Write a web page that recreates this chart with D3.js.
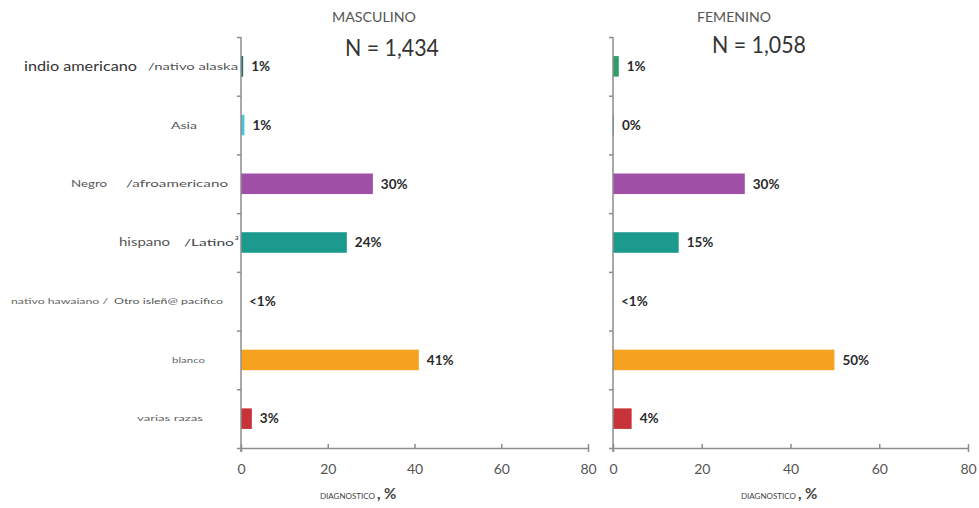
<!DOCTYPE html>
<html>
<head>
<meta charset="utf-8">
<script src="https://cdn.jsdelivr.net/npm/d3@7"></script>
<style>
  body { margin: 0; background: #fff; }
  text { font-family: Lato, "Open Sans", sans-serif; }
</style>
</head>
<body>
<svg id="chart" width="979" height="508"></svg>
<script>
// categories (each label is drawn in pieces, like the original)
const categories = [
    ["indio americano", "/nativo  alaska"],
    ["Asia"],
    ["Negro", "/afroamericano"],
    ["hispano", "/Latino"],
    ["nativo hawaiano /", "Otro isleñ@ pacifico"],
    ["blanco"],
    ["varias razas"]
];
const catKeys = categories.map(c => c.join(" "));

const maleValues = [0.5, 0.8, 30.4, 24.4, 0, 41.0, 2.5];
const maleLabels = ["1%", "1%", "30%", "24%", "<1%", "41%", "3%"];
const femaleValues = [1.3, 0.2, 29.7, 14.8, 0, 49.9, 4.2];
const femaleLabels = ["1%", "0%", "30%", "15%", "<1%", "50%", "4%"];

const maleColors = ["#1d6f67", "#4ec3dc", "#a04fa6", "#1b9a8d", "#ffffff", "#f6a221", "#c8333a"];
const femaleColors = ["#2e9e68", "#2a9a8e", "#a04fa6", "#1b9a8d", "#ffffff", "#f6a221", "#c8333a"];

const xTicks = [0, 20, 40, 60, 80];
const panels = [
    {title: "MASCULINO", n: "N = 1,434", values: maleValues, labels: maleLabels, colors: maleColors},
    {title: "FEMENINO", n: "N = 1,058", values: femaleValues, labels: femaleLabels, colors: femaleColors}
];

const svg = d3.select("#chart");
const plotTop = 37, plotBottom = 448;
const panelX = [[241, 588], [613, 968]];
const titleX = [[332, 345], [697, 712]];

const y = d3.scaleBand().domain(catKeys).range([plotTop, plotBottom])
    .paddingInner(0.65).paddingOuter(0.325);
const yb = d3.scaleLinear().domain([0, categories.length]).range([plotTop, plotBottom]);

panels.forEach((p, pi) => {
    const x = d3.scaleLinear().domain([0, 80]).range(panelX[pi]);
    const g = svg.append("g");

    g.selectAll("rect.bar")
        .data(p.values)
        .join("rect")
        .attr("class", "bar")
        .attr("x", x(0))
        .attr("y", (d, i) => y(catKeys[i]))
        .attr("width", d => x(d) - x(0))
        .attr("height", y.bandwidth())
        .attr("fill", (d, i) => p.colors[i]);

    g.selectAll("text.val")
        .data(p.values)
        .join("text")
        .attr("class", "val")
        .attr("x", d => x(d) + 8)
        .attr("y", (d, i) => y(catKeys[i]) + y.bandwidth() / 2)
        .attr("dy", "0.35em")
        .attr("font-size", 13.5)
        .attr("font-weight", "bold")
        .attr("fill", "#2a2a2a")
        .text((d, i) => p.labels[i]);

    // y axis with ticks at band boundaries
    const ya = g.append("g")
        .attr("transform", `translate(${x(0)},0)`)
        .call(d3.axisLeft(yb).tickValues(d3.range(categories.length + 1))
            .tickSize(4).tickSizeOuter(0).tickFormat(""));
    ya.select(".domain").attr("d", `M0,${plotTop}V${plotBottom + 4}`);

    const xa = g.append("g")
        .attr("transform", `translate(0,${plotBottom})`)
        .call(d3.axisBottom(x).tickValues(xTicks).tickSize(-4).tickSizeOuter(4).tickPadding(16));
    xa.selectAll("text").attr("font-size", 14).attr("fill", "#555")
        .style("font-family", "Lato, sans-serif");

    [ya, xa].forEach(a => {
        a.selectAll("path, line").attr("stroke", "#8d8d8d").attr("stroke-width", 1.5);
    });

    // titles
    g.append("text").attr("x", titleX[pi][0]).attr("y", 22)
        .attr("font-size", 12.5).attr("fill", "#555")
        .attr("textLength", pi === 0 ? 84 : 74).attr("lengthAdjust", "spacingAndGlyphs").text(p.title);
    g.append("text").attr("x", titleX[pi][1]).attr("y", pi === 0 ? 56 : 53)
        .attr("font-size", 23).attr("fill", "#333")
        .attr("textLength", 94).attr("lengthAdjust", "spacingAndGlyphs").text(p.n);

    // x axis title
    const xt = g.append("text").attr("x", x(0) + (pi === 0 ? 79 : 128)).attr("y", 499).attr("fill", "#444");
    xt.append("tspan").attr("font-size", 8).text("DIAGNOSTICO");
    xt.append("tspan").attr("font-size", 15).attr("font-weight", "bold").attr("dx", 2).text(", %");
});

// category labels, placed piece by piece as in the source figure
const labelStyle = [
    [{x: 24, w: 113, s: 13, c: "#333"}, {x: 148, w: 90, s: 10, c: "#555"}],
    [{x: 171, w: 26, s: 10, c: "#555"}],
    [{x: 71, w: 36, s: 10, c: "#555"}, {x: 126, w: 102, s: 10, c: "#555"}],
    [{x: 119, w: 51, s: 11, c: "#555"}, {x: 184, w: 50, s: 10, c: "#444"}],
    [{x: 11, w: 97, s: 7, c: "#666"}, {x: 114, w: 109, s: 8, c: "#555"}],
    [{x: 172, w: 33, s: 8, c: "#666"}],
    [{x: 137, w: 66, s: 7, c: "#666"}]
];
const labels = svg.append("g");
categories.forEach((parts, i) => {
    const cy = y(catKeys[i]) + y.bandwidth() / 2;
    parts.forEach((t, j) => {
        const st = labelStyle[i][j];
        labels.append("text")
            .attr("x", st.x).attr("y", cy).attr("dy", "0.35em")
            .attr("font-size", st.s).attr("fill", st.c)
            .attr("textLength", st.w).attr("lengthAdjust", "spacingAndGlyphs")
            .text(t);
    });
    if (i === 3) {
        labels.append("text").attr("x", 235).attr("y", cy - 3)
            .attr("font-size", 7).attr("fill", "#333").text("a");
    }
});
</script>
</body>
</html>
